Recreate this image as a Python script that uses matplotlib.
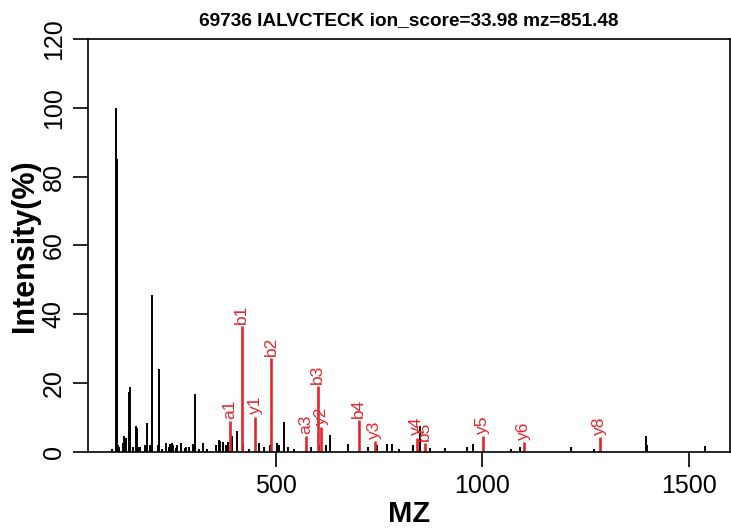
import matplotlib
matplotlib.use("Agg")
import matplotlib.pyplot as plt
from matplotlib import font_manager

# pick an Arial-like face
names = {f.name for f in font_manager.fontManager.ttflist}
FONT = "Liberation Sans" if "Liberation Sans" in names else "DejaVu Sans"
plt.rcParams["font.family"] = [FONT, "DejaVu Sans"]

TITLE = "69736 IALVCTECK ion_score=33.98 mz=851.48"

# unannotated peaks (m/z, relative intensity)
peak_mz = [104, 113.1, 114.1, 115.1, 116.1, 118.1, 121.1, 130, 134, 138,
           145, 147, 156, 161, 164, 170, 173, 185, 188, 190,
           197, 202, 215, 218, 226, 234, 241, 244, 249, 252,
           258, 262, 272, 280, 284, 290, 300, 304, 306, 315,
           325, 335, 357, 363, 366, 374, 379, 386, 394, 407,
           421, 436, 461, 471, 486, 503, 509, 520, 531, 545,
           587, 605, 622, 633, 675, 723, 745, 771, 783, 798,
           834, 850, 873, 910, 963, 979, 1069, 1093, 1216, 1270,
           1398, 1400, 1541]
peak_int = [1.0, 3.5, 100, 85, 53, 2.0, 1.5, 2.5, 4.5, 4.0,
            17.4, 18.8, 1.5, 7.6, 7.0, 1.5, 1.5, 2.0, 8.5, 2.7,
            2.0, 45.5, 2.0, 24.0, 1.0, 2.6, 1.5, 2.3, 2.5, 2.0,
            1.2, 2.0, 2.7, 1.2, 1.5, 1.5, 2.2, 5.2, 16.8, 1.0,
            2.7, 1.0, 2.0, 3.5, 3.2, 3.0, 2.0, 3.0, 4.7, 6.2,
            2.6, 1.0, 2.5, 1.5, 2.0, 2.7, 2.0, 8.6, 1.5, 1.0,
            1.5, 2.0, 2.0, 5.0, 2.2, 1.5, 2.0, 2.3, 2.3, 1.0,
            2.0, 7.5, 1.2, 1.2, 1.5, 2.3, 1.0, 1.5, 1.5, 1.0,
            4.5, 2.0, 1.7]

# matched fragment ions
ion_labels = ["a1", "b1", "y1", "b2", "a3", "b3", "y2", "b4", "y3",
              "y4", "b5", "y5", "y6", "y8"]
ion_mz = [390.3, 418.3, 451.3, 489.3, 574.4, 602.4, 611.3, 701.5, 740.4,
          841.4, 861.5, 1001.5, 1100.5, 1284.7]
ion_int = [9.0, 36.6, 10.3, 27.2, 4.6, 19.2, 7.2, 9.3, 3.3,
           4.2, 2.7, 4.7, 3.0, 4.4]

RED = "#E3262B"

fig = plt.figure(figsize=(7.31, 5.29), dpi=100)
ax = fig.add_axes([0.1204, 0.1456, 0.878, 0.7807])

ax.vlines(peak_mz, 0, peak_int, color="black", lw=1.4)
ax.vlines(ion_mz, 0, ion_int, color=RED, lw=1.9)
for lab, x, y in zip(ion_labels, ion_mz, ion_int):
    ax.text(x, y + 0.6, lab, rotation=90, ha="center", va="bottom",
            color=RED, fontsize=12.5)

ax.set_xlim(46, 1600)
ax.set_ylim(0, 120)
ax.set_xticks([500, 1000, 1500])
ax.set_yticks(range(0, 121, 20))
ax.tick_params(axis="both", direction="out", length=11, width=1.2,
               labelsize=18, pad=5)
for t in ax.get_yticklabels():
    t.set_rotation(90)
    t.set_va("center")
for s in ax.spines.values():
    s.set_linewidth(1.2)

ax.set_xlabel("MZ", fontsize=21, fontweight="bold", labelpad=1)
ax.set_ylabel("Intensity(%)", fontsize=22, fontweight="bold", labelpad=1)
ax.set_title(TITLE, fontsize=13.7, fontweight="bold", pad=10)

fig.savefig("out.png", dpi=100)
